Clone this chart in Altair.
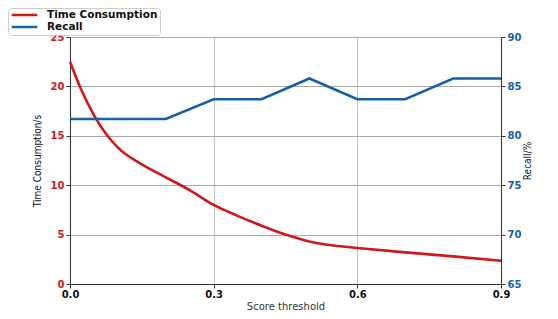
import altair as alt
import pandas as pd

# Time consumption curve (s)
time_x = [0.0, 0.025, 0.05, 0.075, 0.1, 0.15, 0.2, 0.25, 0.3, 0.35, 0.4, 0.45, 0.5, 0.55, 0.6, 0.7, 0.8, 0.9]
time_y = [22.5, 19.5, 17.1, 15.2, 13.8, 12.1, 10.8, 9.5, 8.0, 6.9, 5.9, 5.0, 4.3, 3.9, 3.65, 3.2, 2.8, 2.35]

# Recall (%)
recall_x = [0.0, 0.1, 0.2, 0.3, 0.4, 0.5, 0.6, 0.7, 0.8, 0.9]
recall_y = [81.7, 81.7, 81.7, 83.7, 83.7, 85.8, 83.7, 83.7, 85.8, 85.8]

series = ["Time Consumption", "Recall"]
colors = ["#d01818", "#1660aa"]
x_ticks = [0.0, 0.3, 0.6, 0.9]

df_t = pd.DataFrame({"x": time_x, "y": time_y, "s": series[0]})
df_r = pd.DataFrame({"x": recall_x, "y": recall_y, "s": series[1]})

narrow = "DejaVu Sans Condensed, Liberation Sans Narrow, Liberation Sans"

color = alt.Color(
    "s:N",
    scale=alt.Scale(domain=series, range=colors),
    legend=alt.Legend(
        title=None, orient="none", legendX=-62, legendY=-29,
        symbolType="stroke", symbolSize=650, symbolStrokeWidth=2.6,
        clipHeight=10, rowPadding=1, padding=2, labelOffset=8,
        labelFont="DejaVu Sans", labelFontWeight="bold", labelFontSize=10.5, labelColor="#111",
        strokeColor="#cccccc", cornerRadius=3, fillColor="white",
    ),
)

xenc = alt.X(
    "x:Q",
    scale=alt.Scale(domain=[0, 0.9], nice=False, zero=False),
    axis=alt.Axis(
        values=x_ticks, format=".1f", title="Score threshold", labelFlush=False,
        labelFont="DejaVu Sans", labelFontWeight="bold", labelFontSize=10, labelColor="#111",
        titleFont="DejaVu Sans", titleFontWeight="normal", titleFontSize=10, titleColor="#333",
        grid=True, gridColor="#c8c8c8", gridWidth=1.2,
        domainColor="#333", tickColor="#333", tickSize=4, labelPadding=1, titlePadding=2,
    ),
)

line_t = alt.Chart(df_t).mark_line(strokeWidth=2.6, interpolate="monotone").encode(
    x=xenc,
    y=alt.Y(
        "y:Q",
        scale=alt.Scale(domain=[0, 25], nice=False),
        axis=alt.Axis(
            values=[0, 5, 10, 15, 20, 25], title="Time Consumption/s", orient="left", labelFlush=False,
            labelFont="DejaVu Sans", labelFontWeight="bold", labelFontSize=10, labelColor="#d01818",
            titleFont=narrow, titleFontWeight="normal", titleFontSize=10, titleColor="#111",
            grid=True, gridColor="#a8a8a8", gridWidth=1.2,
            domainColor="#333", tickColor="#333", tickSize=4, titlePadding=8,
        ),
    ),
    color=color,
)

line_r = alt.Chart(df_r).mark_line(strokeWidth=2.6).encode(
    x=xenc,
    y=alt.Y(
        "y:Q",
        scale=alt.Scale(domain=[65, 90], nice=False, zero=False),
        axis=alt.Axis(
            values=[65, 70, 75, 80, 85, 90], title="Recall/%", orient="right", labelFlush=False,
            labelFont="DejaVu Sans", labelFontWeight="bold", labelFontSize=10, labelColor="#1660aa",
            titleFont=narrow, titleFontWeight="normal", titleFontSize=10, titleColor="#111",
            titleAngle=270, grid=False,
            domainColor="#333", tickColor="#333", tickSize=4, titlePadding=12,
        ),
    ),
    color=color,
)

chart = (
    alt.layer(line_t, line_r)
    .resolve_scale(y="independent")
    .properties(
        width=431, height=247,
        autosize=alt.AutoSizeParams(type="none"),
        padding={"left": 62, "top": 29, "right": 49, "bottom": 28},
    )
    .configure_view(stroke="#333", strokeWidth=1.2)
    .configure(background="white")
)

chart.save("out.html", embed_options={"renderer": "svg", "actions": False})
